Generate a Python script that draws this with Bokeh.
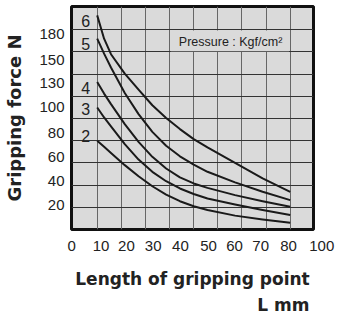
from bokeh.plotting import figure
from bokeh.models import FixedTicker, Label, BoxAnnotation, Title, Range1d, ColumnDataSource
from bokeh.core.properties import value
from bokeh.embed import file_html
from bokeh.resources import INLINE

# ---- data ----
length_mm = [10, 12.5, 15, 20, 25, 30, 35, 40, 45, 50, 60, 70, 80]
force_p6 = [193, 172, 158, 140.5, 126, 112, 100.5, 90.5, 81.5, 74, 60, 46, 34]
force_p5 = [172, 158.5, 146, 123, 104, 88, 75.5, 66, 58.5, 52, 42.5, 34, 26.5]
force_p4 = [133, 122.5, 113, 95, 79, 65.5, 55, 47, 41.5, 37.5, 31, 25.5, 20.5]
force_p3 = [110, 101, 93, 77, 63, 52, 43.5, 37, 32, 28, 22.5, 17.5, 13]
force_p2 = [80, 74.5, 69, 58, 48, 39, 31.5, 25.5, 21, 17.5, 12.5, 9, 6]
pressures = ["6", "5", "4", "3", "2"]

x_tick_labels = ["0", "10", "20", "30", "40", "50", "60", "70", "80", "100"]
y_tick_labels = ["20", "40", "60", "80", "100", "130", "150", "180"]

X0, X1 = 0.68, 88.45
Y0, Y1 = 0, 201

# ---- layout positions (where the printed labels sit) ----
x_tick_pos = [0.7, 11.4, 20.6, 30.3, 40.2, 50.4, 59.8, 69.3, 79.4, X1 - 0.01]
y_tick_pos = [22.5, 43.3, 65.1, 87.4, 110.2, 132.2, 152.8, 176.6]
pressure_label_x = [5.8] * 5
pressure_label_y = [187.6, 166.9, 127.5, 108.2, 84.3]

BG = "#dadada"
INK = "#1a1a1a"
NB = "\u00a0"

p = figure(frame_width=242, frame_height=223,
           x_range=Range1d(X0, X1), y_range=Range1d(Y0, Y1),
           output_backend="svg", toolbar_location=None,
           min_border_left=71, min_border_top=6, min_border_right=24, min_border_bottom=0,
           background_fill_color=BG, border_fill_color="white",
           outline_line_color="#111111", outline_line_width=3)

# grid: uniform cells
p.xgrid.ticker = FixedTicker(ticks=[10 + 8.75 * k for k in range(9)])
p.ygrid.ticker = FixedTicker(ticks=[20 * k for k in range(1, 10)])
p.xgrid.grid_line_color = "#666666"
p.ygrid.grid_line_color = "#333333"
p.xgrid.grid_line_width = 1
p.ygrid.grid_line_width = 1

# axes
for ax in (p.xaxis[0], p.yaxis[0]):
    ax.axis_line_color = None
    ax.major_tick_line_color = None
    ax.minor_tick_line_color = None
    ax.major_tick_out = 0
    ax.major_tick_in = 0
    ax.major_label_text_font = "Liberation Sans"
    ax.major_label_text_font_size = "15px"
    ax.major_label_text_color = "#222222"
    ax.axis_label_text_font = "DejaVu Sans"
    ax.axis_label_text_font_style = "bold"
    ax.axis_label_text_color = "#222222"

overrides = {pos: lab for pos, lab in zip(x_tick_pos, x_tick_labels)}
overrides[x_tick_pos[-1]] = NB * 4 + x_tick_labels[-1]   # "100" printed just right of the frame
p.xaxis.ticker = FixedTicker(ticks=x_tick_pos)
p.xaxis.major_label_overrides = overrides
p.xaxis.major_label_standoff = 7
p.xaxis.axis_label = "Length of gripping point"
p.xaxis.axis_label_text_font_size = "17px"
p.xaxis.axis_label_standoff = 12

p.yaxis.ticker = FixedTicker(ticks=y_tick_pos)
p.yaxis.major_label_overrides = {pos: lab for pos, lab in zip(y_tick_pos, y_tick_labels)}
p.yaxis.major_label_standoff = 7
p.yaxis.axis_label = "Gripping force N"
p.yaxis.axis_label_text_font_size = "18px"
p.yaxis.axis_label_standoff = 11

p.add_layout(Title(text="L mm", align="right", offset=4, standoff=2,
                   text_font="DejaVu Sans", text_font_style="bold",
                   text_font_size="17px", text_color="#222222"), "below")

# legend box for pressure unit
p.add_layout(BoxAnnotation(left=36.25 + 0.4, right=80 - 0.4, bottom=160 + 0.6, top=180 - 0.6,
                           fill_color=BG, fill_alpha=1.0, line_alpha=0))
p.add_layout(Label(x=39.6, y=169, text="Pressure : Kgf/cm²",
                   text_align="left", text_baseline="middle",
                   text_font="Liberation Sans", text_font_size="12.5px",
                   text_color="#222222"))

# curves
for ys in (force_p6, force_p5, force_p4, force_p3, force_p2):
    p.line(length_mm, ys, line_width=2, line_color=INK, line_join="round")

# pressure labels
src = ColumnDataSource(dict(x=pressure_label_x, y=pressure_label_y, t=pressures))
p.text(x="x", y="y", text="t", source=src, text_align="center", text_baseline="middle",
       text_font=value("Liberation Sans"), text_font_size="16px", text_color="#222222")

open("out.html", "w").write(file_html(p, INLINE))
